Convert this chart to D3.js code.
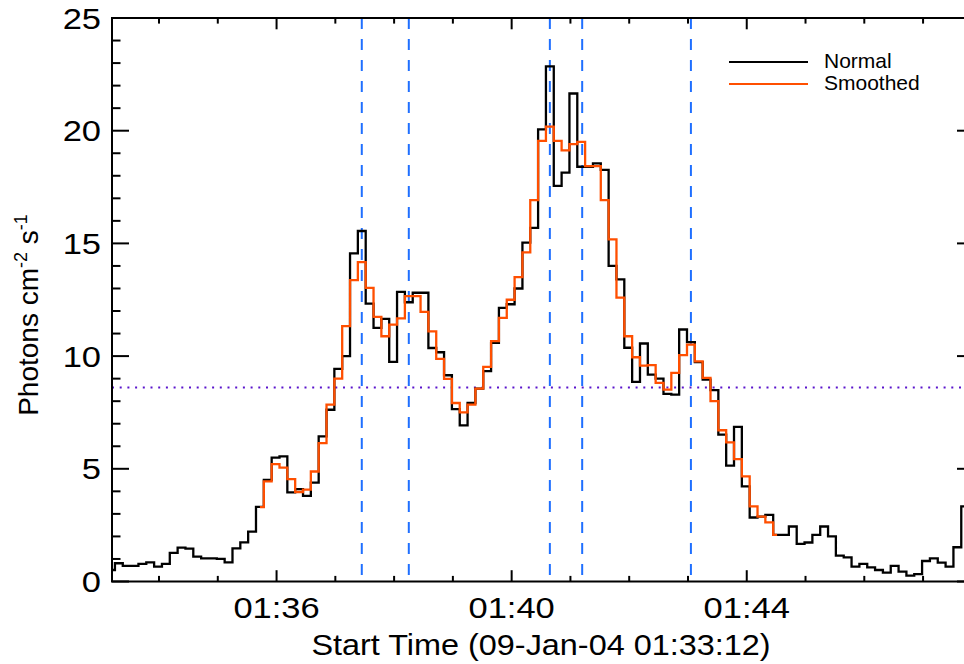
<!DOCTYPE html>
<html>
<head>
<meta charset="utf-8">
<script src="https://cdn.jsdelivr.net/npm/d3@7"></script>
<style>
  body { margin: 0; background: #fff; }
  svg text { font-family: "Liberation Sans", Arial, Helvetica, sans-serif; fill: #000; }
</style>
</head>
<body>
<div id="chart"></div>
<script>
// light curve, 8 s bins starting 01:33:11
const binStart = new Date(Date.UTC(2004, 0, 9, 1, 33, 11));
const binSec = 8;

const counts = [
  0.51, 0.81, 0.69, 0.69, 0.78, 0.85, 0.66, 0.78, 1.27, 1.50,
  1.46, 1.10, 1.03, 1.03, 1.00, 0.85, 1.47, 1.74, 2.21, 3.31,
  4.51, 5.50, 5.55, 3.95, 4.10, 3.80, 4.39, 6.44, 7.62, 9.43,
  10.0, 14.56, 15.55, 12.33, 11.25, 11.65, 9.74, 12.85, 12.39, 12.81,
  12.81, 10.36, 10.17, 9.15, 7.65, 6.93, 7.92, 8.56, 9.33, 10.59,
  12.14, 12.3, 13.0, 15.03, 15.69, 20.06, 22.85, 17.55, 18.14, 21.65,
  18.4, 18.4, 18.55, 18.26, 14.0, 13.4, 10.37, 8.86, 10.56, 9.18,
  9.0, 8.32, 8.29, 11.18, 10.62, 9.73, 8.96, 8.49, 6.52, 5.14,
  6.86, 4.22, 2.84, 2.88, 2.96, 2.07, 2.07, 2.44, 1.67, 1.73,
  2.07, 2.44, 2.0, 1.15, 1.07, 0.66, 0.78, 0.63, 0.51, 0.39,
  0.69, 0.44, 0.26, 0.33, 0.91, 1.03, 0.84, 0.66, 1.52, 3.33
];

// smoothed curve begins at bin 19
const smoothFirstBin = 19;
const smoothed = [
  3.30, 4.44, 5.21, 5.05, 4.54, 3.97, 4.08, 4.88, 6.14, 7.85,
  9.0, 11.33, 13.37, 14.17, 13.03, 11.74, 10.88, 11.40, 11.67, 12.66,
  12.66, 11.96, 11.1, 9.88, 8.99, 7.92, 7.50, 7.85, 8.56, 9.52,
  10.66, 11.7, 12.5, 13.5, 14.6, 16.92, 19.55, 20.18, 19.55, 19.13,
  19.4, 19.5, 18.43, 18.43, 16.92, 15.18, 12.59, 10.88, 9.95, 9.58,
  9.6, 8.81, 8.51, 9.26, 10.04, 10.51, 9.77, 9.03, 8.0, 6.71,
  6.17, 5.43, 4.66, 3.33, 2.88, 2.62, 2.07
];

const eventTimes = ["01:37:27", "01:38:15", "01:40:39", "01:41:12", "01:43:03"];
const threshold = 8.61;
const yTicks = [0, 5, 10, 15, 20, 25];
const legendNames = ["Normal", "Smoothed"];
const legendColors = ["#000000", "#ff4f00"];

const width = 964, height = 664;
const margin = { left: 112, right: -10, top: 18, bottom: 82.5 };

const svg = d3.select("#chart").append("svg")
  .attr("width", width)
  .attr("height", height);

const t = s => new Date(Date.UTC(2004, 0, 9, ...s.split(":").map(Number)));

const x = d3.scaleUtc()
  .domain([t("01:33:12"), t("01:47:52")])
  .range([margin.left, width - margin.right]);

const y = d3.scaleLinear()
  .domain([0, 25])
  .range([height - margin.bottom, margin.top]);

const binTime = i => new Date(binStart.getTime() + i * binSec * 1000);

svg.append("clipPath").attr("id", "plotclip")
  .append("rect")
  .attr("x", x.range()[0]).attr("y", margin.top - 1)
  .attr("width", x.range()[1] - x.range()[0])
  .attr("height", y.range()[0] - margin.top + 1);

const plot = svg.append("g").attr("clip-path", "url(#plotclip)");

// event markers
plot.selectAll(".event")
  .data(eventTimes)
  .enter().append("line")
  .attr("class", "event")
  .attr("x1", d => x(t(d))).attr("x2", d => x(t(d)))
  .attr("y1", y.range()[1]).attr("y2", y.range()[0])
  .attr("stroke", "#1f6fff")
  .attr("stroke-width", 2)
  .attr("stroke-dasharray", "11,10");

// threshold
plot.append("line")
  .attr("x1", x.range()[0]).attr("x2", x.range()[1])
  .attr("y1", y(threshold)).attr("y2", y(threshold))
  .attr("stroke", "#5a14cc")
  .attr("stroke-width", 2)
  .attr("stroke-dasharray", "2,5.7");

const step = d3.line()
  .x(d => x(d.t))
  .y(d => y(d.v))
  .curve(d3.curveStep);

plot.append("path")
  .datum(counts.map((v, i) => ({ t: binTime(i), v })))
  .attr("fill", "none")
  .attr("stroke", legendColors[0])
  .attr("stroke-width", 2.3)
  .attr("d", step);

plot.append("path")
  .datum(smoothed.map((v, i) => ({ t: binTime(i + smoothFirstBin), v })))
  .attr("fill", "none")
  .attr("stroke", legendColors[1])
  .attr("stroke-width", 2.3)
  .attr("d", step);

// frame + ticks (inward, like IDL)
const frame = svg.append("g").attr("stroke", "#000").attr("stroke-width", 2);
const [x0, x1] = x.range();
const [yb, yt] = y.range();
frame.append("rect")
  .attr("x", x0).attr("y", yt)
  .attr("width", x1 - x0).attr("height", yb - yt)
  .attr("fill", "none");

const minorX = x.ticks(d3.utcMinute.every(1));
const majorX = x.ticks(d3.utcMinute.every(4));
minorX.forEach(d => {
  const major = majorX.some(m => +m === +d);
  const len = major ? 11.3 : 5.6;
  frame.append("line").attr("x1", x(d)).attr("x2", x(d)).attr("y1", yb).attr("y2", yb - len);
  frame.append("line").attr("x1", x(d)).attr("x2", x(d)).attr("y1", yt).attr("y2", yt + len);
});

d3.range(0, 26, 1).forEach(v => {
  const major = yTicks.includes(v);
  const len = major ? 17 : 8.5;
  frame.append("line").attr("x1", x0).attr("x2", x0 + len).attr("y1", y(v)).attr("y2", y(v));
  frame.append("line").attr("x1", x1).attr("x2", x1 - len).attr("y1", y(v)).attr("y2", y(v));
});

// tick labels (reference font is a bit wider than Arial)
const fmt = d3.utcFormat("%H:%M");
svg.selectAll(".xlab")
  .data(majorX)
  .enter().append("text")
  .attr("class", "xlab")
  .attr("transform", d => `translate(${x(d)},618) scale(1.15,1)`)
  .attr("text-anchor", "middle")
  .style("font-size", "30px")
  .text(fmt);

svg.selectAll(".ylab")
  .data(yTicks)
  .enter().append("text")
  .attr("class", "ylab")
  .attr("transform", d => `translate(101,${y(d)}) scale(1.15,1)`)
  .attr("dy", "0.35em")
  .attr("text-anchor", "end")
  .style("font-size", "30px")
  .text(d => d);

// axis titles
svg.append("text")
  .attr("transform", "translate(541,655) scale(1.08,1)")
  .attr("text-anchor", "middle")
  .style("font-size", "30px")
  .text("Start Time (09-Jan-04 01:33:12)");

const ytitle = svg.append("text")
  .attr("transform", "translate(38,315) rotate(-90)")
  .attr("text-anchor", "middle")
  .style("font-size", "28px");
ytitle.append("tspan").text("Photons cm");
ytitle.append("tspan").attr("dy", -11).style("font-size", "18px").text("-2");
ytitle.append("tspan").attr("dy", 11).text(" s");
ytitle.append("tspan").attr("dy", -11).style("font-size", "18px").text("-1");

// legend
const legend = svg.append("g");
legendNames.forEach((name, i) => {
  const ly = 62 + i * 22;
  legend.append("line")
    .attr("x1", 729).attr("x2", 808)
    .attr("y1", ly).attr("y2", ly)
    .attr("stroke", legendColors[i])
    .attr("stroke-width", 2);
  legend.append("text")
    .attr("x", 824).attr("y", ly + 6)
    .style("font-size", "21px")
    .text(name);
});
</script>
</body>
</html>
